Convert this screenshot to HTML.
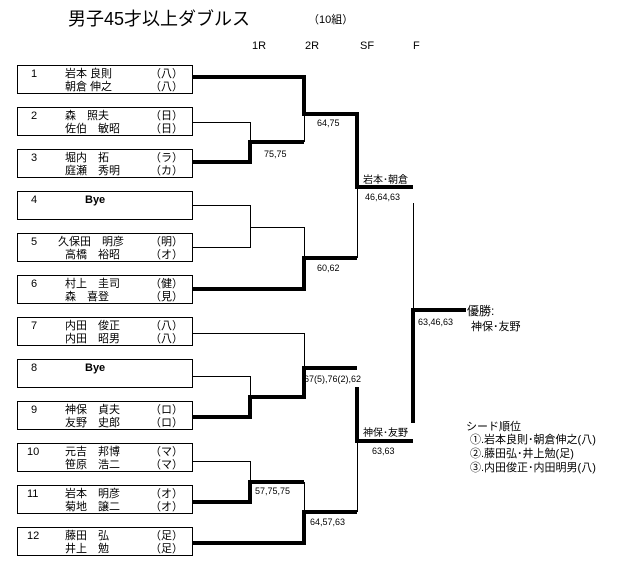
<!DOCTYPE html>
<html><head><meta charset="utf-8"><style>
body{margin:0;background:#fff}
svg{display:block}
text{font-family:"Liberation Sans","Noto Sans CJK JP",sans-serif;font-size:11px;fill:#000}
</style></head><body>
<svg width="625" height="575" viewBox="0 0 625 575" xmlns="http://www.w3.org/2000/svg">
<text x="68" y="25" style="font-size:18px">男子45才以上ダブルス</text>
<text x="308" y="23" style="font-size:11px">（10組）</text>
<text x="252" y="49">1R</text><text x="305" y="49">2R</text><text x="360" y="49">SF</text><text x="413" y="49">F</text>
<g fill="none" stroke="#000" stroke-width="1">
<rect x="17.5" y="65.5" width="175" height="28"/>
<rect x="17.5" y="107.5" width="175" height="28"/>
<rect x="17.5" y="149.5" width="175" height="28"/>
<rect x="17.5" y="191.5" width="175" height="28"/>
<rect x="17.5" y="233.5" width="175" height="28"/>
<rect x="17.5" y="275.5" width="175" height="28"/>
<rect x="17.5" y="317.5" width="175" height="28"/>
<rect x="17.5" y="359.5" width="175" height="28"/>
<rect x="17.5" y="401.5" width="175" height="28"/>
<rect x="17.5" y="443.5" width="175" height="28"/>
<rect x="17.5" y="485.5" width="175" height="28"/>
<rect x="17.5" y="527.5" width="175" height="28"/>
<polyline points="192,122.5 250.5,122.5 250.5,142"/>
<line x1="304.5" y1="114" x2="304.5" y2="142"/>
<polyline points="192,205.5 250.5,205.5 250.5,247.5 192,247.5"/>
<polyline points="250,227.5 304.5,227.5 304.5,258"/>
<line x1="357.5" y1="187" x2="357.5" y2="258"/>
<line x1="413.5" y1="203" x2="413.5" y2="310"/>
<polyline points="192,333.5 304.5,333.5 304.5,368"/>
<polyline points="192,376.5 250.5,376.5 250.5,397"/>
<line x1="357.5" y1="441" x2="357.5" y2="512"/>
<polyline points="192,461.5 250.5,461.5 250.5,482"/>
<line x1="304.5" y1="482" x2="304.5" y2="512"/>
</g>
<g fill="none" stroke="#000" stroke-width="4" stroke-linejoin="miter">
<polyline points="192,77 304,77 304,114 357,114 357,187 413,187"/>
<polyline points="192,162 250,162 250,142 304,142"/>
<polyline points="192,289 304,289 304,258 357,258"/>
<polyline points="192,417 250,417 250,397 304,397 304,368 357,368"/>
<polyline points="357,387 357,441 413,441"/>
<polyline points="413,423 413,310 466,310"/>
<polyline points="192,502 250,502 250,482 304,482"/>
<polyline points="192,543 304,543 304,512 357,512"/>
</g>
<g>
<text x="31" y="77">1</text><text x="65" y="77">岩本 良則</text><text x="150" y="77">（八）</text>
<text x="65" y="90">朝倉 伸之</text><text x="150" y="90">（八）</text>
<text x="31" y="119">2</text><text x="65" y="119">森　照夫</text><text x="150" y="119">（日）</text>
<text x="65" y="132">佐伯　敏昭</text><text x="150" y="132">（日）</text>
<text x="31" y="161">3</text><text x="65" y="161">堀内　拓</text><text x="150" y="161">（ラ）</text>
<text x="65" y="174">庭瀬　秀明</text><text x="150" y="174">（カ）</text>
<text x="31" y="203">4</text><text x="85" y="203" style="font-weight:bold">Bye</text>
<text x="31" y="245">5</text><text x="58" y="245">久保田　明彦</text><text x="150" y="245">（明）</text>
<text x="65" y="258">高橋　裕昭</text><text x="150" y="258">（オ）</text>
<text x="31" y="287">6</text><text x="65" y="287">村上　圭司</text><text x="150" y="287">（健）</text>
<text x="65" y="300">森　喜登</text><text x="150" y="300">（見）</text>
<text x="31" y="329">7</text><text x="65" y="329">内田　俊正</text><text x="150" y="329">（八）</text>
<text x="65" y="342">内田　昭男</text><text x="150" y="342">（八）</text>
<text x="31" y="371">8</text><text x="85" y="371" style="font-weight:bold">Bye</text>
<text x="31" y="413">9</text><text x="65" y="413">神保　貞夫</text><text x="150" y="413">（ロ）</text>
<text x="65" y="426">友野　史郎</text><text x="150" y="426">（ロ）</text>
<text x="27" y="455">10</text><text x="65" y="455">元吉　邦博</text><text x="150" y="455">（マ）</text>
<text x="65" y="468">笹原　浩二</text><text x="150" y="468">（マ）</text>
<text x="27" y="497">11</text><text x="65" y="497">岩本　明彦</text><text x="150" y="497">（オ）</text>
<text x="65" y="510">菊地　譲二</text><text x="150" y="510">（オ）</text>
<text x="27" y="539">12</text><text x="65" y="539">藤田　弘</text><text x="150" y="539">（足）</text>
<text x="65" y="552">井上　勉</text><text x="150" y="552">（足）</text>
</g>
<g>
<text x="264" y="157" style="font-size:9px">75,75</text>
<text x="317" y="126" style="font-size:9px">64,75</text>
<text x="317" y="271" style="font-size:9px">60,62</text>
<text x="365" y="200" style="font-size:9px">46,64,63</text>
<text x="418" y="325" style="font-size:9px">63,46,63</text>
<text x="304" y="382" style="font-size:9px">67(5),76(2),62</text>
<text x="372" y="454" style="font-size:9px">63,63</text>
<text x="255" y="494" style="font-size:9px">57,75,75</text>
<text x="310" y="525" style="font-size:9px">64,57,63</text>
</g>
<text x="363" y="183" style="font-size:10px">岩本･朝倉</text>
<text x="363" y="436" style="font-size:10px">神保･友野</text>
<text x="467" y="315" style="font-size:12px">優勝:</text>
<text x="471" y="330">神保･友野</text>
<text x="466" y="430">シード順位</text>
<text x="470" y="443">①.岩本良則･朝倉伸之(八)</text>
<text x="470" y="457">②.藤田弘･井上勉(足)</text>
<text x="470" y="471">③.内田俊正･内田明男(八)</text>
</svg>
</body></html>
